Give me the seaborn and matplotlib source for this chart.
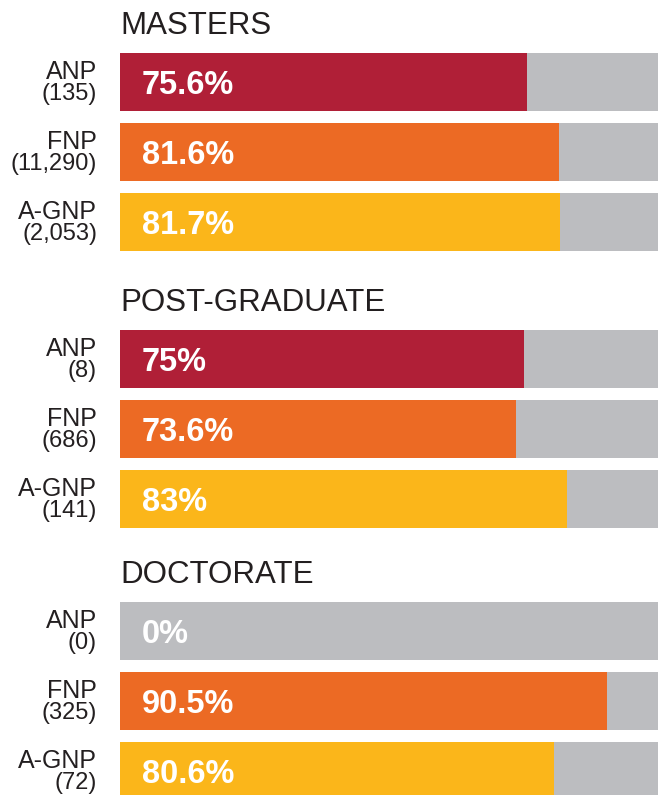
# import libraries and packages
import matplotlib
matplotlib.use("Agg")
import numpy as np
import pandas as pd
import seaborn as sns
import matplotlib.pyplot as plt

# chart data
groups = ["MASTERS", "POST-GRADUATE", "DOCTORATE"]
programs = ["ANP", "FNP", "A-GNP"]
masters_pct = [75.6, 81.6, 81.7]
masters_n = ["135", "11,290", "2,053"]
postgrad_pct = [75, 73.6, 83]
postgrad_n = ["8", "686", "141"]
doctorate_pct = [0, 90.5, 80.6]
doctorate_n = ["0", "325", "72"]
full_scale = [100, 100, 100]

group_pct = [masters_pct, postgrad_pct, doctorate_pct]
group_n = [masters_n, postgrad_n, doctorate_n]

# colours
program_colors = ["#B01F37", "#EC6A24", "#FBB61A"]
grey = "#BCBDC0"
text_color = "#231F20"

sns.set_style("white")
plt.rcParams["font.family"] = ["Liberation Sans", "DejaVu Sans"]

fig = plt.figure(figsize=(6.64, 7.95), dpi=100)
W, H = 664, 795

# top pixel of each group's axes (3 rows of 70 px each)
group_tops = [47, 324, 596]
row_px = 70
bar_w = 58 / row_px

for g, top in enumerate(group_tops):
    ax = fig.add_axes([120 / W, 1 - (top + 3 * row_px) / H, 538 / W, 3 * row_px / H])
    df = pd.DataFrame({"Program": programs, "Pct": group_pct[g], "Full": full_scale})

    # grey background bars, coloured value bars on top
    sns.barplot(data=df, x="Full", y="Program", color=grey, width=bar_w,
                saturation=1, linewidth=0, ax=ax)
    sns.barplot(data=df, x="Pct", y="Program", hue="Program", palette=program_colors,
                width=bar_w, saturation=1, linewidth=0, legend=False, ax=ax)

    ax.set_xlim(0, 100)
    ax.set_ylim(2.5, -0.5)
    ax.set_xlabel("")
    ax.set_ylabel("")
    ax.set_xticks([])
    ax.set_yticks([])
    sns.despine(ax=ax, left=True, bottom=True)

    # group heading
    ax.annotate(groups[g], xy=(0, 1), xycoords="axes fraction", xytext=(0, 13),
                textcoords="offset pixels", ha="left", va="baseline",
                fontsize=22.5, color=text_color)

    for i, prog in enumerate(programs):
        pct = group_pct[g][i]
        # program name and count on the left
        ax.annotate(prog, xy=(0, i), xycoords=("axes fraction", "data"),
                    xytext=(-23, 3), textcoords="offset pixels",
                    ha="right", va="baseline", fontsize=18, color=text_color)
        ax.annotate(f"({group_n[g][i]})", xy=(0, i), xycoords=("axes fraction", "data"),
                    xytext=(-23, -18), textcoords="offset pixels",
                    ha="right", va="baseline", fontsize=17, color=text_color)
        # percentage inside the bar
        ax.annotate(f"{pct:g}%", xy=(0, i), xycoords=("axes fraction", "data"),
                    xytext=(22, -12), textcoords="offset pixels",
                    ha="left", va="baseline", fontsize=23.5, fontweight="bold",
                    color="white")

plt.savefig("out.png", dpi=100)
